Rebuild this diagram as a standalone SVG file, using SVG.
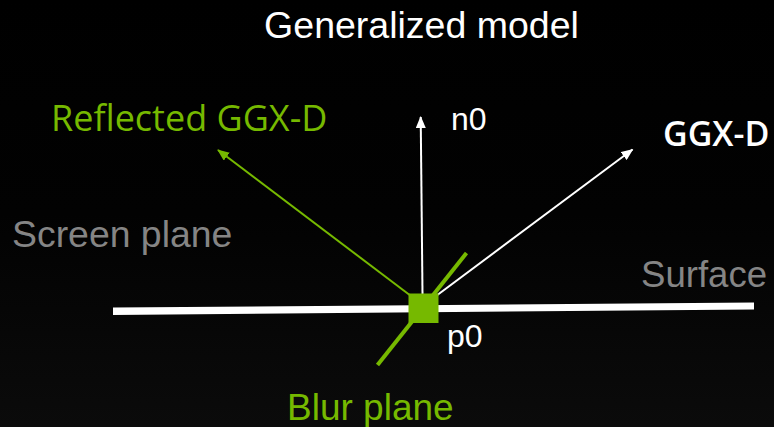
<svg xmlns="http://www.w3.org/2000/svg" width="774" height="427" viewBox="0 0 774 427">
<style>
.sans{font-family:"Liberation Sans",Arial,sans-serif}
.hum{font-family:"Open Sans","Noto Sans","DejaVu Sans",sans-serif}
.white{fill:#ffffff}
.gray{fill:#858585}
.green{fill:#76b900}
.wline{stroke:#ffffff;fill:none}
.gline{stroke:#76b900;fill:none}
</style>
<defs>
<linearGradient id="bg" x1="0" y1="0" x2="0" y2="1">
<stop offset="0" stop-color="#000000"/>
<stop offset="0.5" stop-color="#020202"/>
<stop offset="1" stop-color="#0b0b0b"/>
</linearGradient>
<marker id="aw" markerWidth="12" markerHeight="10" refX="11" refY="5" orient="auto" markerUnits="userSpaceOnUse">
<path d="M0,0 L12,5 L0,10 z" fill="#ffffff"/>
</marker>
<marker id="ag" markerWidth="12" markerHeight="10" refX="11" refY="5" orient="auto" markerUnits="userSpaceOnUse">
<path d="M0,0 L12,5 L0,10 z" fill="#76b900"/>
</marker>
</defs>
<rect width="774" height="427" fill="url(#bg)"/>
<text id="title" class="sans white" x="421.5" y="38" font-size="37.5" text-anchor="middle">Generalized model</text>
<g id="connectors">
<line class="gline" x1="411" y1="296" x2="218" y2="150" stroke-width="2" marker-end="url(#ag)"/>
<line class="wline" x1="422.5" y1="294" x2="420.7" y2="117" stroke-width="2" marker-end="url(#aw)"/>
<line class="wline" x1="436" y1="296" x2="632.5" y2="149.5" stroke-width="2" marker-end="url(#aw)"/>
</g>
<g id="surface">
<polygon points="113,307.5 754,302.5 754,309.5 113,315" fill="#ffffff"/>
<text class="sans gray" x="641" y="287" font-size="36.6">Surface</text>
</g>
<g id="blur-plane">
<line class="gline" x1="466.5" y1="253" x2="377.5" y2="365" stroke-width="4"/>
<text class="sans green" x="287" y="420" font-size="37">Blur plane</text>
</g>
<g id="p0">
<rect x="408.5" y="293.5" width="30" height="29.5" fill="#76b900"/>
<text class="sans white" x="447" y="347" font-size="32">p0</text>
</g>
<g id="n0">
<text class="sans white" x="451" y="130" font-size="32">n0</text>
</g>
<g id="ggx-d">
<text class="hum white" x="663" y="146" font-size="34" font-weight="600">GGX-D</text>
</g>
<g id="reflected-ggx-d">
<text class="hum green" x="51" y="131" font-size="36">Reflected GGX-D</text>
</g>
<g id="screen-plane">
<text class="sans gray" x="12" y="247" font-size="37.4">Screen plane</text>
</g>
</svg>
